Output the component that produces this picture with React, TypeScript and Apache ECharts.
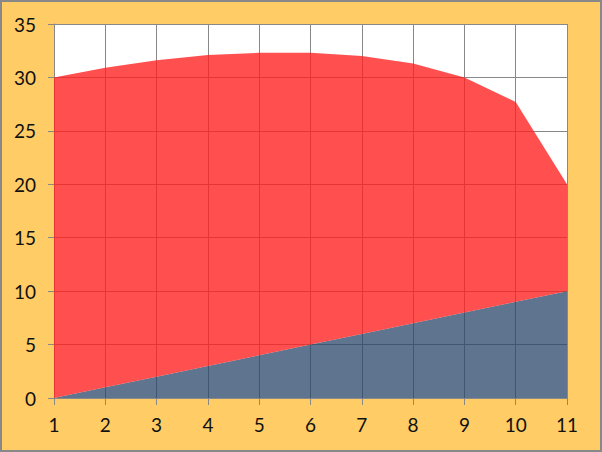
import React, { useEffect, useRef } from "react";
import * as echarts from "echarts";

const categories = ["1", "2", "3", "4", "5", "6", "7", "8", "9", "10", "11"];
const redTop = [30, 30.9, 31.6, 32.1, 32.3, 32.3, 32.0, 31.3, 30.0, 27.7, 20];
const blueValues = [0, 1, 2, 3, 4, 5, 6, 7, 8, 9, 10];
const yTicks = { min: 0, max: 35, interval: 5 };

export default function App() {
  const ref = useRef<HTMLDivElement>(null);
  useEffect(() => {
    document.body.style.margin = "0";
    const chart = echarts.init(ref.current!, null, { renderer: "svg" });
    const redPart = redTop.map((v, i) => +(v - blueValues[i]).toFixed(3));
    const font = "Lato, 'Open Sans', sans-serif";
    chart.setOption({
      animation: false,
      grid: { left: 54, right: 35, top: 24, bottom: 54, show: true, backgroundColor: "#ffffff", borderWidth: 0 },
      xAxis: {
        type: "category",
        data: categories,
        boundaryGap: false,
        axisLine: { lineStyle: { color: "#888", width: 1 } },
        axisTick: { show: true, length: 7, alignWithLabel: true, lineStyle: { color: "#888" } },
        axisLabel: { color: "#111", fontSize: 19, fontFamily: font, margin: 17 },
        splitLine: { show: true, lineStyle: { color: "#888", width: 1 } },
      },
      yAxis: {
        type: "value",
        min: yTicks.min,
        max: yTicks.max,
        interval: yTicks.interval,
        axisLine: { show: true, lineStyle: { color: "#888", width: 1 } },
        axisTick: { show: true, length: 6, lineStyle: { color: "#888" } },
        axisLabel: { color: "#111", fontSize: 19, fontFamily: font, margin: 18 },
        splitLine: { show: true, lineStyle: { color: "#888", width: 1 } },
      },
      series: [
        {
          type: "line",
          stack: "s",
          data: blueValues,
          symbol: "none",
          lineStyle: { width: 0 },
          areaStyle: { color: "rgba(42,70,105,0.75)", opacity: 1 },
        },
        {
          type: "line",
          stack: "s",
          data: redPart,
          symbol: "none",
          lineStyle: { width: 0 },
          areaStyle: { color: "rgba(255,30,30,0.78)", opacity: 1 },
        },
      ],
    });
    return () => chart.dispose();
  }, []);
  return (
    <div
      style={{
        position: "fixed",
        left: 0,
        top: 0,
        width: 602,
        height: 452,
        boxSizing: "border-box",
        border: "2px solid #888",
        background: "#FFCC66",
      }}
    >
      <div ref={ref} style={{ position: "absolute", left: -2, top: -2, width: 602, height: 452 }} />
    </div>
  );
}
